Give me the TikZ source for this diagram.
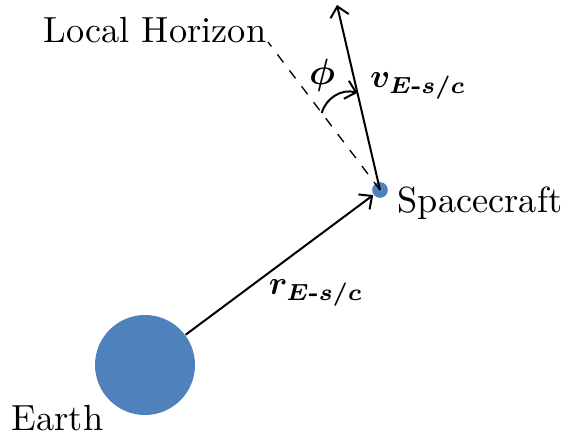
\documentclass[tikz,border=0pt]{standalone}
\usepackage{amsmath}
\usepackage{bm}
\usepackage{xcolor}
\usetikzlibrary{positioning,calc,arrows.meta}
\definecolor{body}{HTML}{4F81BD}

\begin{document}
\begin{tikzpicture}[x=0.3pt,y=-0.3pt,font=\normalsize,
  vec/.style={-{Straight Barb[length=3pt,width=5.6pt]},semithick},
  planet/.style={circle,fill=body,inner sep=0pt},
  lbl/.style={font=\fontsize{10.9}{13}\selectfont}]
  \useasboundingbox (0,0) rectangle (561,435);

  \node[planet,minimum size=30pt] (earth) at (145,365) {};
  \node[planet,minimum size=4.7pt] (sc) at (380,190) {};
  \coordinate (vtip) at (337,5);
  \coordinate (hz) at (268,42);

  \draw[dashed,thin] (sc.center) -- (hz);
  \draw[vec] (sc.center) -- (vtip);
  \draw[vec] (earth) -- (sc);

  \coordinate (phia) at ($(sc.center)!0.52!(hz)$);
  \coordinate (phib) at ($(sc.center)!0.525!(vtip)$);
  \draw[vec] (phia) to[bend left=45] (phib);

  \node[lbl,anchor=east] (hzlbl) at (278,30) {Local Horizon};
  \node[lbl,anchor=west] (sclbl) at (386,203) {Spacecraft};
  \node[lbl,anchor=west] (elbl) at (0,418) {Earth};
  \node[lbl] (phi) at (322,75) {$\bm{\phi}$};
  \node (vlbl) at (418,86) {$\bm{v}_{\bm{E}\textbf{-}\bm{s/c}}$};
  \node (rlbl) at (316,293) {$\bm{r}_{\bm{E}\textbf{-}\bm{s/c}}$};
\end{tikzpicture}
\end{document}
